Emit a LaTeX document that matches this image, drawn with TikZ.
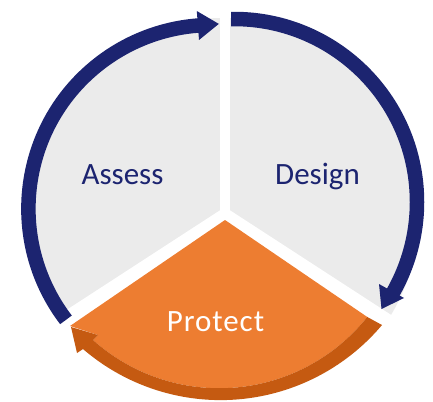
\documentclass[tikz,border=0pt]{standalone}
\usepackage{fontspec}
\setmainfont{Carlito}
\definecolor{navyarc}{RGB}{28,36,112}
\definecolor{graybg}{RGB}{235,235,235}
\definecolor{orlight}{RGB}{237,125,49}
\definecolor{ordark}{RGB}{197,90,17}
\tikzset{
  arcshaft/.style={draw=navyarc, line width=14.5pt},
  headfill/.style={fill=navyarc},
  gapline/.style={draw=white, line width=10pt},
  lbl/.style={font=\fontsize{31}{31}\selectfont, anchor=base, inner sep=0pt}
}
\begin{document}
\begin{tikzpicture}[x=1pt,y=-1pt]
\useasboundingbox (0,0) rectangle (433,401);
% gray sectors
\coordinate (C) at (223,214);
\fill[graybg] (C) -- ([shift={(223,214)}]147:196) arc[start angle=147,end angle=393,radius=196] -- cycle;
% white gaps
\coordinate (G) at (225,213);
\draw[gapline] (G) -- ++(270:230);
\draw[gapline] (G) -- ++(147:230);
\draw[gapline] (G) -- ++(33:230);
\fill[white] (G) circle[radius=5];
% orange face
\fill[orlight] (225,220) -- (70,326) -- (98,335) -- (93,340)
  arc[start angle=131.8,end angle=38.6,radius=189.4] -- cycle;
% dark orange arrow
\fill[ordark] (382,325) arc[start angle=40.1,end angle=130.7,radius=211]
  -- (77,353) -- (71,327) -- (98,335) -- (93,340)
  arc[start angle=131.8,end angle=38.6,radius=189.4] -- cycle;
% left blue arrow
\draw[arcshaft] ([shift={(212,208.6)}]142.7:183.6) arc[start angle=142.7,end angle=266,radius=183.6];
\fill[headfill] (196.8,11) -- (218.8,23.9) -- (199,40) -- cycle;
% right blue arrow
\draw[arcshaft] ([shift={(234,202)}]269.1:183) arc[start angle=269.1,end angle=389.8,radius=183];
\fill[headfill] (379,284) -- (404,298) -- (381.5,309) -- cycle;
% labels
\node[lbl, text=navyarc] (assess) at (122.5,184) {Assess};
\node[lbl, text=navyarc] (design) at (317.5,184) {Design};
\node[lbl, text=white] (protect) at (215.5,331) {\addfontfeature{LetterSpace=3}Protect};
\end{tikzpicture}
\end{document}
